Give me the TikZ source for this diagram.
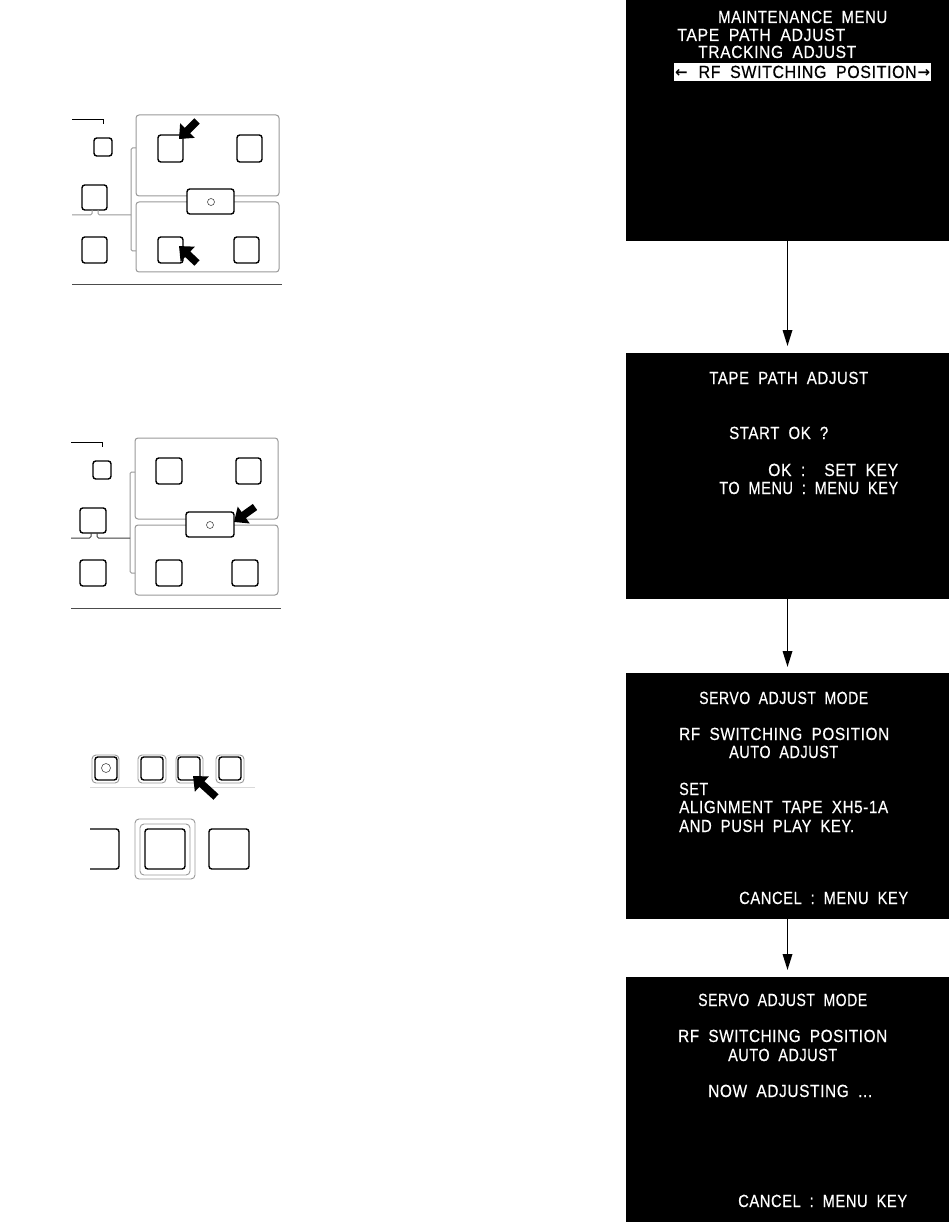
\documentclass[tikz,border=0pt]{standalone}
\usepackage{fontspec}
\usepackage{graphicx}
\newfontfamily\scr[WordSpace=1.9,LetterSpace=4,FakeBold=0.5]{Liberation Sans}
\newfontfamily\arrowfont{DejaVu Sans Bold}
\usetikzlibrary{arrows.meta}
\newcommand{\rbox}[6][btn]{% style, name, x1,y1,x2,y2
  \pgfmathsetmacro{\bw}{#5-(#3)}\pgfmathsetmacro{\bh}{#6-(#4)}
  \node[#1,minimum width=\bw pt,minimum height=\bh pt] (#2) at ({(#3+#5)/2},{(#4+#6)/2}) {};}
\newcommand{\scrline}[5]{% name, x1, x2, baseline, text
  \pgfmathsetmacro{\tw}{#3-(#2)}
  \node[txt] (#1) at (#2,#4) {\resizebox{\tw pt}{\height}{#5}};}
\tikzset{
  btn/.style={draw=black,line width=1.4pt,rounded corners=2.8pt,inner sep=0pt,outer sep=0pt,fill=white},
  panel/.style={draw=gray!80,line width=1pt,rounded corners=3pt,inner sep=0pt,outer sep=0pt},
  halo/.style={draw=gray!80,line width=0.9pt,rounded corners=4pt,inner sep=0pt,outer sep=0pt},
  lamp/.style={circle,draw=black!70,line width=0.6pt,fill=white,inner sep=0pt,minimum size=7pt},
  screen/.style={fill=black,draw=none,inner sep=0pt,outer sep=0pt},
  bandbox/.style={fill=white,draw=none,inner sep=0pt,outer sep=0pt},
  txt/.style={anchor=base west,text=white,inner sep=0pt,font=\scr\fontsize{17.6}{20}\selectfont},
  rev/.style={txt,text=black},
  flow/.style={draw=black,line width=1.7pt,-{Triangle[length=16pt,width=9.5pt]}},
  pointer/.style={draw=black,line width=7.5pt,-{Triangle[length=12pt,width=20pt]}},
  wire/.style={draw=gray!80,line width=1pt,rounded corners=1.5pt},
  dark/.style={draw=black!75,line width=1pt,rounded corners=1.5pt},
  rule/.style={draw=black,line width=0.9pt},
  base/.style={draw=black!70,line width=1pt},
}
\begin{document}
\begin{tikzpicture}[x=1pt,y=-1pt]
\useasboundingbox[fill=white] (0,0) rectangle (949,1222);
% screens
\rbox[screen]{s1}{626}{0}{949}{241}
\rbox[screen]{s2}{626}{353}{949}{599}
\rbox[screen]{s3}{626}{673}{949}{919}
\rbox[screen]{s4}{626}{977}{949}{1222}
\draw[flow] (s1.south) -- ([yshift=7pt]s2.north);
\draw[flow] (s2.south) -- ([yshift=6pt]s3.north);
\draw[flow] (s3.south) -- ([yshift=7pt]s4.north);
% screen 1
\scrline{a1}{718}{887}{23}{MAINTENANCE MENU}
\scrline{a2}{677}{845}{41}{TAPE PATH ADJUST}
\scrline{a3}{698}{856}{58}{TRACKING ADJUST}
\rbox[bandbox]{band}{674}{63}{931}{81}
\node[rev] (a4) at (675,78) {\hbox to 255pt{{\arrowfont\fontsize{15}{18}\selectfont←}\hfil\resizebox{218pt}{\height}{RF SWITCHING POSITION}\kern 1pt{\arrowfont\fontsize{15}{18}\selectfont→}}};
% screen 2
\scrline{b1}{709}{868}{384}{TAPE PATH ADJUST}
\scrline{b2}{729}{828}{439}{START OK ?}
\scrline{b3}{768}{898}{476}{OK :\ \ SET KEY}
\scrline{b4}{719}{898}{494}{TO MENU : MENU KEY}
% screen 3
\scrline{c1}{699}{868}{704}{SERVO ADJUST MODE}
\scrline{c2}{679}{889}{740}{RF SWITCHING POSITION}
\scrline{c3}{729}{838}{758}{AUTO ADJUST}
\scrline{c4}{679}{708}{795}{SET}
\scrline{c5}{679}{888}{813}{ALIGNMENT TAPE XH5-1A}
\scrline{c6}{679}{854}{832}{AND PUSH PLAY KEY.}
\scrline{c7}{739}{908}{904}{CANCEL : MENU KEY}
% screen 4
\scrline{d1}{698}{867}{1006}{SERVO ADJUST MODE}
\scrline{d2}{678}{887}{1042}{RF SWITCHING POSITION}
\scrline{d3}{728}{837}{1061}{AUTO ADJUST}
\scrline{d4}{708}{872}{1097}{NOW ADJUSTING ...}
\scrline{d5}{738}{907}{1207}{CANCEL : MENU KEY}
% panel 1
\rbox[panel]{p1t}{136}{115}{279}{196}
\rbox[panel]{p1b}{136}{202}{279}{272}
\rbox{p1tl}{158}{135}{183}{162}
\rbox{p1tr}{237}{135}{262}{162}
\rbox{p1c}{187}{189}{234}{214}
\node[lamp] (p1l) at (211,202) {};
\rbox{p1s}{94}{138}{112}{156}
\rbox{p1m}{82}{185}{107}{210}
\rbox{p1d}{82}{237}{107}{263}
\rbox{p1bl}{158}{237}{183}{263}
\rbox{p1br}{234}{237}{259}{263}
\draw[rule] (72,119) -- (103,119) -- (103,124);
\draw[base] (72,285) -- (282,285);
\draw[wire] (136,148) -- (131,148) -- (131,251) -- (136,251);
\draw[wire] (72,215) -- (92,215) -- (92,210);
\draw[wire] (98,210) -- (98,215) -- (131,215);
\draw[pointer] (197,121) -- (179,139);
\draw[pointer] (197,263) -- (179,246);
% panel 2
\rbox[panel]{p2t}{135}{438}{278}{519}
\rbox[panel]{p2b}{135}{525}{278}{595}
\rbox{p2tl}{156}{458}{182}{484}
\rbox{p2tr}{236}{458}{261}{484}
\rbox{p2c}{186}{512}{234}{537}
\node[lamp] (p2l) at (210,525) {};
\rbox{p2s}{93}{461}{111}{479}
\rbox{p2m}{80}{508}{106}{533}
\rbox{p2d}{80}{560}{106}{586}
\rbox{p2bl}{156}{560}{182}{586}
\rbox{p2br}{232}{560}{258}{586}
\draw[rule] (71,442) -- (102,442) -- (102,447);
\draw[base] (71,608) -- (281,608);
\draw[wire] (135,472) -- (130,472) -- (130,573) -- (135,573);
\draw[dark] (71,538) -- (91,538) -- (91,533);
\draw[dark] (97,533) -- (97,538) -- (130,538);
\draw[pointer] (255,507) -- (234,522);
% panel 3
\rbox[halo]{h1}{92}{755}{119}{783}
\rbox{k1}{95}{757}{117}{780}
\node[lamp,minimum size=9pt] (k1l) at (106,768) {};
\rbox[halo]{h2}{138}{755}{166}{783}
\rbox{k2}{141}{757}{163}{780}
\rbox[halo]{h3}{176}{755}{203}{783}
\rbox{k3}{178}{757}{200}{780}
\rbox[halo]{h4}{216}{755}{244}{783}
\rbox{k4}{219}{757}{241}{780}
\draw[draw=gray!30,line width=0.8pt] (90,787) -- (255,787);
\rbox[halo]{b0}{135}{819}{195}{879}
\rbox[halo]{b1k}{140}{824}{190}{875}
\rbox{bk}{145}{829}{185}{869}
\draw[line width=1.4pt,rounded corners=2.8pt] (90,829) -- (119,829) -- (119,869) -- (90,869);
\rbox{rk}{209}{829}{249}{869}
\draw[pointer] (216,797) -- (193,776);
\end{tikzpicture}
\end{document}
